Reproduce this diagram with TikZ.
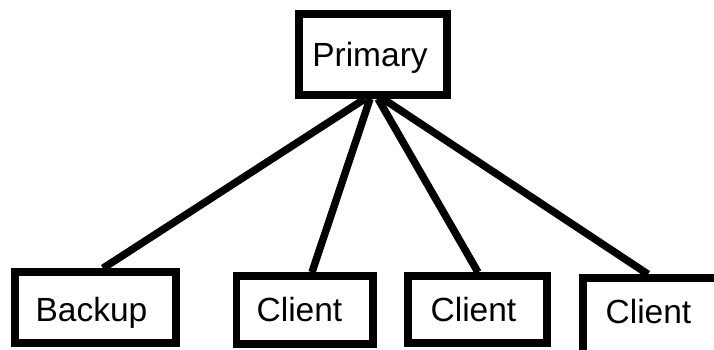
\documentclass[tikz,border=0pt]{standalone}
\usepackage{fontspec}
\setmainfont{Liberation Sans}
\begin{document}
\begin{tikzpicture}[x=1pt,y=-1pt,
  box/.style={draw=black,line width=7.5pt,fill=white,inner sep=0pt},
  word/.style={font=\fontsize{33.5}{40}\selectfont,text height=24pt,text depth=0pt,inner sep=0pt},
  link/.style={draw=black,line width=7.5pt}]
  \useasboundingbox (0,0) rectangle (714,350);
  \clip (0,0) rectangle (714,350);
  \fill[white] (0,0) rectangle (714,350);
  % top node
  \node[box,minimum width=148pt,minimum height=81pt] (primary) at (373,54.5) {};
  \node[word] (primarytext) at (370,54.2) {Primary};
  % bottom row
  \node[box,minimum width=161pt,minimum height=71pt] (backup) at (95.5,307.5) {};
  \node[word] (backuptext) at (91.5,309.5) {Backup};
  \node[box,minimum width=136.5pt,minimum height=68pt] (client1) at (304.75,310) {};
  \node[word] (client1text) at (299.5,309.3) {Client};
  \node[box,minimum width=139pt,minimum height=67pt] (client2) at (477.5,309.5) {};
  \node[word] (client2text) at (473.5,309.3) {Client};
  \node[box,minimum width=141pt,minimum height=76pt] (client3) at (653.5,316) {};
  \node[word] (client3text) at (648.5,311.5) {Client};
  % connectors
  \draw[link] ([xshift=-8pt]primary.south) -- ([xshift=7.5pt]backup.north);
  \draw[link] ([xshift=-3pt]primary.south) -- ([xshift=7.25pt]client1.north);
  \draw[link] ([xshift=5pt]primary.south) -- ([xshift=0.5pt]client2.north);
  \draw[link] ([xshift=10pt]primary.south) -- ([xshift=-5.5pt]client3.north);
\end{tikzpicture}
\end{document}
